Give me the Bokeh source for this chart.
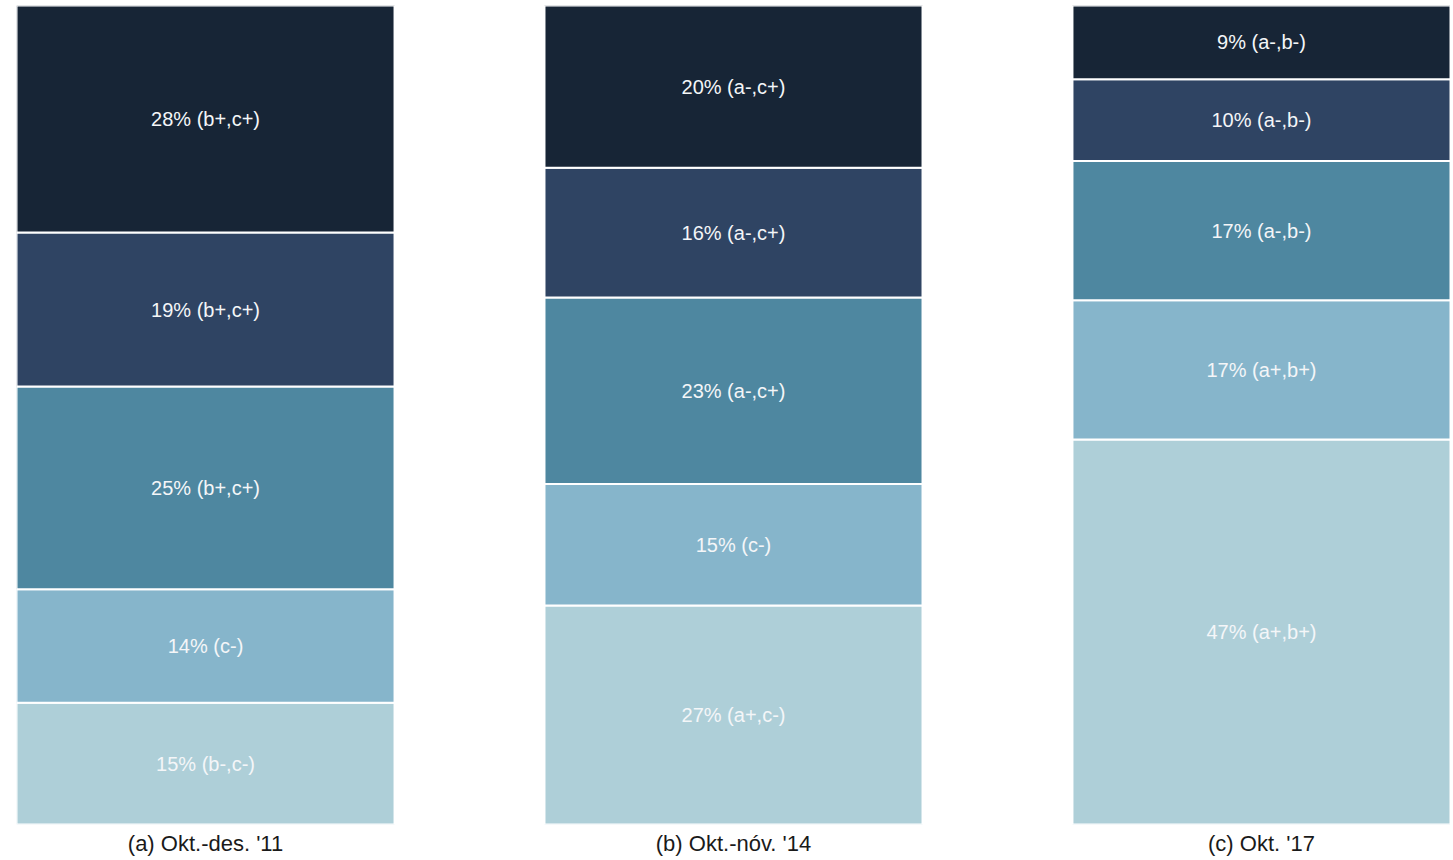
import numpy as np
from bokeh.plotting import figure
from bokeh.models import ColumnDataSource, Range1d, FixedTicker
from bokeh.core.properties import value
from bokeh.embed import file_html
from bokeh.resources import INLINE

# ---- data ----
categories = ["(a) Okt.-des. '11", "(b) Okt.-nóv. '14", "(c) Okt. '17"]

# segment values, bottom to top, per period
values_a = [15, 14, 25, 19, 28]
labels_a = ["(b-,c-)", "(c-)", "(b+,c+)", "(b+,c+)", "(b+,c+)"]

values_b = [27, 15, 23, 16, 20]
labels_b = ["(a+,c-)", "(c-)", "(a-,c+)", "(a-,c+)", "(a-,c+)"]

values_c = [47, 17, 17, 10, 9]
labels_c = ["(a+,b+)", "(a+,b+)", "(a-,b-)", "(a-,b-)", "(a-,b-)"]

palette = ["#aecfd8", "#86b5cb", "#4e87a0", "#2f4463", "#172536"]  # bottom -> top

all_values = [values_a, values_b, values_c]
all_labels = [labels_a, labels_b, labels_c]

# ---- build stacked segments ----
xs, bottoms, tops, colors, texts, mids = [], [], [], [], [], []
for i, (vals, labs) in enumerate(zip(all_values, all_labels)):
    v = np.array(vals, dtype=float)
    frac = v / v.sum()
    cum = np.concatenate([[0.0], np.cumsum(frac)])
    for k in range(len(vals)):
        xs.append(i)
        bottoms.append(cum[k])
        tops.append(cum[k + 1])
        colors.append(palette[k])
        texts.append(f"{vals[k]}% {labs[k]}")
        mids.append((cum[k] + cum[k + 1]) / 2)

src = ColumnDataSource(dict(x=xs, bottom=bottoms, top=tops, color=colors,
                            text=texts, mid=mids))

bar_w = 0.716
n = len(categories)

p = figure(width=1450, height=858, output_backend="svg", toolbar_location=None,
           x_range=Range1d(-bar_w / 2, (n - 1) + bar_w / 2),
           y_range=Range1d(0, 1),
           min_border_left=16, min_border_right=0, min_border_top=5,
           min_border_bottom=27)

p.vbar(x="x", bottom="bottom", top="top", width=bar_w, fill_color="color",
       line_color="white", line_width=2, source=src)

p.text(x="x", y="mid", text="text", source=src, text_align="center",
       text_baseline="middle", text_color="#f4f6f8",
       text_font=value("Liberation Sans"), text_font_size="20px")

p.yaxis.visible = False
p.xgrid.visible = False
p.ygrid.visible = False
p.outline_line_color = None

ax = p.xaxis[0]
ax.ticker = FixedTicker(ticks=list(range(n)))
ax.major_label_overrides = {i: c for i, c in enumerate(categories)}
ax.axis_line_color = None
ax.major_tick_line_color = None
ax.minor_tick_line_color = None
ax.major_tick_out = 0
ax.major_tick_in = 0
ax.major_label_standoff = 6
ax.major_label_text_font = "Liberation Sans"
ax.major_label_text_font_size = "22px"
ax.major_label_text_color = "#1a1a1a"

open("out.html", "w").write(file_html(p, INLINE))
